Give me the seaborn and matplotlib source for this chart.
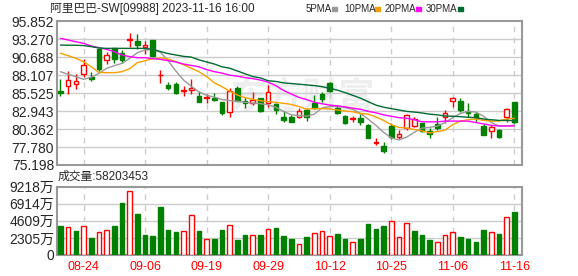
import numpy as np
import pandas as pd
import seaborn as sns
import matplotlib.pyplot as plt

# K-line data (60 trading days, 2023-08-21 .. 2023-11-16)
opens = [85.8, 86.5, 86.78, 88.22, 87.89, 91.91, 90.23, 92.0, 91.28, 93.15,
         93.01, 92.19, 93.15, 88.08, 86.69, 86.83, 85.87, 85.97, 85.11, 84.87,
         84.82, 84.25, 82.81, 86.30, 84.34, 84.05, 84.77, 84.15, 83.96, 82.09,
         82.04, 82.04, 83.14, 84.05, 85.40, 86.93, 83.34, 82.19, 81.81, 81.95,
         80.94, 78.31, 77.93, 80.80, 79.17, 80.46, 80.75, 81.18, 80.03, 81.09,
         82.04, 84.34, 84.34, 82.91, 82.47, 80.80, 80.03, 80.18, 82.14, 84.25]
highs = [87.5, 88.7, 88.27, 90.37, 88.51, 92.0, 91.48, 92.05, 91.67, 94.11,
         94.01, 93.01, 93.2, 88.84, 87.12, 87.17, 86.54, 87.50, 85.78, 85.40,
         85.49, 84.30, 86.21, 86.50, 84.92, 85.68, 84.87, 86.64, 84.15, 82.95,
         82.33, 83.34, 83.34, 85.25, 85.73, 87.07, 83.82, 82.38, 82.24, 82.47,
         81.04, 79.03, 78.45, 81.18, 80.22, 82.57, 82.04, 81.22, 80.51, 82.14,
         83.10, 85.01, 84.77, 84.05, 82.81, 81.04, 80.94, 80.37, 83.34, 84.30]
lows = [85.1, 85.44, 86.16, 87.89, 87.26, 88.75, 89.75, 89.90, 89.80, 92.19,
        91.91, 91.19, 90.66, 86.93, 85.97, 85.40, 85.11, 85.40, 84.29, 84.15,
        84.44, 82.43, 82.14, 84.40, 83.43, 83.82, 82.86, 83.53, 82.47, 81.42,
        81.38, 82.0, 81.57, 83.19, 84.25, 85.73, 82.52, 81.09, 81.42, 80.94,
        79.03, 78.07, 76.97, 78.88, 78.88, 80.22, 80.70, 79.99, 79.12, 80.22,
        81.28, 83.58, 82.86, 82.14, 81.42, 79.50, 79.12, 79.07, 81.42, 81.05]
closes = [85.6, 87.36, 87.26, 89.51, 87.60, 89.03, 91.04, 90.47, 90.33, 93.25,
          92.48, 92.39, 90.90, 88.17, 86.21, 85.49, 85.97, 86.26, 84.29, 84.96,
          84.58, 82.71, 85.87, 84.44, 84.10, 84.53, 83.00, 85.68, 83.10, 81.71,
          81.42, 82.91, 82.14, 83.43, 84.73, 85.87, 82.62, 81.28, 81.90, 81.42,
          79.12, 78.45, 77.26, 79.17, 79.60, 82.33, 81.81, 80.13, 79.60, 80.46,
          82.71, 84.77, 83.14, 82.62, 82.09, 79.55, 80.66, 79.27, 83.19, 81.42]

ma5 = [88.6, 88.22, 87.89, 87.5, 87.79, 88.36, 89.08, 89.46, 89.8, 90.52,
       91.33, 91.72, 91.81, 91.38, 90.18, 88.7, 87.4, 86.5, 85.7, 85.2,
       84.95, 84.6, 84.45, 84.35, 84.2, 84.1, 84.0, 83.85, 83.5, 82.9,
       82.4, 82.3, 82.2, 82.5, 83.4, 83.6, 83.6, 83.45, 83.2, 82.6,
       81.8, 80.9, 79.9, 79.1, 78.8, 79.2, 79.9, 80.5, 80.6, 80.8,
       81.3, 82.0, 82.6, 82.9, 82.8, 82.2, 81.3, 80.8, 80.8, 80.9]
ma10 = [91.24, 90.9, 90.52, 90.04, 89.32, 88.5, 88.46, 88.46, 88.6, 89.03,
        89.9, 90.18, 90.47, 90.6, 90.42, 90.04, 89.6, 89.1, 88.6, 87.9,
        87.0, 86.45, 85.8, 85.25, 84.87, 84.63, 84.44, 84.3, 84.2, 84.05,
        83.9, 83.6, 83.2, 83.3, 83.3, 83.25, 83.1, 82.95, 82.85, 82.6,
        82.5, 82.1, 81.6, 81.0, 80.6, 80.5, 80.3, 80.1, 79.8, 80.0,
        80.2, 81.0, 81.5, 81.7, 81.8, 81.6, 81.5, 81.5, 81.8, 81.9]
ma20 = [93.39, 93.15, 92.9, 92.67, 92.29, 92.05, 91.81, 91.48, 91.0, 90.76,
        90.61, 90.61, 90.47, 90.37, 90.18, 90.0, 89.7, 89.5, 89.3, 88.9,
        88.6, 88.4, 88.1, 87.95, 87.75, 87.6, 87.4, 87.1, 86.6, 85.9,
        85.4, 84.9, 84.6, 84.2, 84.0, 83.8, 83.7, 83.55, 83.35, 83.2,
        82.9, 82.7, 82.4, 82.2, 82.0, 81.9, 81.7, 81.4, 81.4, 81.4,
        81.5, 81.5, 81.5, 81.5, 81.3, 81.1, 80.9, 80.8, 80.8, 80.8]
ma30 = [92.43, 92.4, 92.4, 92.35, 92.2, 92.0, 91.95, 91.95, 91.95, 91.95,
        91.95, 91.95, 91.8, 91.5, 91.2, 91.0, 90.8, 90.7, 90.3, 90.0,
        89.7, 89.3, 89.1, 88.7, 88.3, 87.9, 87.7, 87.3, 87.2, 87.0,
        86.9, 86.8, 86.7, 86.6, 86.45, 86.2, 85.95, 85.6, 85.2, 84.8,
        84.3, 83.8, 83.5, 83.3, 83.1, 82.9, 82.8, 82.67, 82.5, 82.4,
        82.24, 82.2, 82.14, 82.05, 82.0, 81.8, 81.7, 81.6, 81.6, 81.57]

# volume in 万 shares, colour by close vs previous close (R = up, G = down)
volumes = [3912, 3733, 3238, 3867, 2293, 3058, 3328, 3912, 7015, 8589,
           5531, 2698, 2563, 6476, 3373, 3103, 3193, 5351, 3238, 2114,
           2159, 3373, 4002, 2024, 2698, 2653, 2698, 3463, 3643, 2563,
           2159, 1484, 2428, 2968, 3238, 2563, 2833, 2159, 1754, 2159,
           4227, 3508, 3912, 4587, 2428, 4317, 3238, 2698, 2024, 1754,
           2698, 3103, 2428, 2159, 1754, 3373, 3103, 2833, 5127, 5820.3453]
vol_dir = list("GRGRGRRGGRGGGGGGRRGRGGRGGRGRGG"
               "GRGRRRGGRGGGGRRRGGGRRRGGGGRGRG")

tick_pos = [3, 11, 19, 27, 35, 43, 51, 59]
tick_labels = ["08-24", "09-06", "09-19", "09-29", "10-12", "10-25", "11-06", "11-16"]
price_ticks = [75.198, 77.780, 80.362, 82.943, 85.525, 88.107, 90.688, 93.270, 95.852]
vol_ticks = [0, 2305, 4609, 6914, 9218]
vol_tick_labels = ["0", "2305万", "4609万", "6914万", "9218万"]

RED = "#ff0000"
GREEN = "#008000"
MA_COLORS = {"5PMA": "#999999", "10PMA": "#f5a000", "20PMA": "#ff00ff", "30PMA": "#006b33"}

sns.set_style("white")
plt.rcParams["font.family"] = ["Liberation Sans", "Noto Sans CJK SC", "DejaVu Sans"]

fig = plt.figure(figsize=(5.78, 2.76), dpi=100)
ax = fig.add_axes([57 / 578, 1 - 165 / 276, 465 / 578, 143.8 / 276])
axv = fig.add_axes([57 / 578, 1 - 255 / 276, 465 / 578, 68.3 / 276])

x = np.arange(len(closes))
o, h, l, c = map(np.array, (opens, highs, lows, closes))
up = c >= o
body_w = 0.6

# watermark
ax.text(0.53, 0.47, "东方财富", transform=ax.transAxes, fontsize=26,
        color="#eeeeee", ha="center", va="center",
        family=["Noto Sans CJK SC"], fontweight="bold", zorder=0)

# candles
ax.vlines(x, l, h, colors=np.where(up, RED, GREEN), linewidth=1, zorder=2)
bottoms = np.minimum(o, c)
heights = np.maximum(np.abs(c - o), 0.02)
ax.bar(x[up], heights[up], bottom=bottoms[up], width=body_w,
       facecolor="white", edgecolor=RED, linewidth=1, zorder=3)
ax.bar(x[~up], heights[~up], bottom=bottoms[~up], width=body_w,
       facecolor=GREEN, edgecolor=GREEN, linewidth=1, zorder=3)

# moving averages
ma_df = pd.DataFrame({"idx": x, "5PMA": ma5, "10PMA": ma10, "20PMA": ma20, "30PMA": ma30})
ma_long = ma_df.melt(id_vars="idx", var_name="line", value_name="value")
sns.lineplot(data=ma_long, x="idx", y="value", hue="line", palette=MA_COLORS,
             linewidth=1, legend=False, ax=ax, zorder=4)

# volume
vcol = np.array([RED if d == "R" else GREEN for d in vol_dir])
vol = np.array(volumes)
is_up = vcol == RED
axv.bar(x[is_up], vol[is_up], width=body_w, facecolor="white",
        edgecolor=RED, linewidth=1, zorder=3)
axv.bar(x[~is_up], vol[~is_up], width=body_w, facecolor=GREEN,
        edgecolor=GREEN, linewidth=1, zorder=3)

for a in (ax, axv):
    a.set_xlim(-0.45, 60.0)
    a.set_xlabel("")
    a.set_ylabel("")
    for s in a.spines.values():
        s.set_color("#999999")
        s.set_linewidth(1.5)
    a.tick_params(length=0, labelsize=10, pad=2)
    for p in tick_pos:
        a.axvline(p, color="#cccccc", linestyle=(0, (4, 4)), linewidth=1, zorder=1)

ax.set_ylim(price_ticks[0], price_ticks[-1])
ax.set_yticks(price_ticks)
ax.set_yticklabels([f"{t:.3f}" for t in price_ticks])
for t in price_ticks[1:-1]:
    ax.axhline(t, color="#cccccc", linewidth=1, zorder=1)
ax.set_xticks([])

axv.set_ylim(0, 9218)
axv.set_yticks(vol_ticks)
axv.set_yticklabels(vol_tick_labels, family=["Liberation Sans", "Noto Sans CJK SC"])
for t in vol_ticks[1:-1]:
    axv.axhline(t, color="#cccccc", linewidth=1, zorder=1)
axv.set_xticks(tick_pos)
axv.set_xticklabels(tick_labels, color=RED, fontsize=9)
axv.tick_params(axis="x", pad=4)

# header texts
head_font = ["Liberation Sans", "Noto Sans CJK SC", "DejaVu Sans"]
fig.text(50 / 578, 1 - 9 / 276, "阿里巴巴-SW[09988] 2023-11-16 16:00", fontsize=8.5,
         family=head_font, va="center", ha="left")
legend_items = [("5PMA", 306, 332), ("10PMA", 344, 375), ("20PMA", 385, 416), ("30PMA", 426, 458)]
for name, px, sq_x in legend_items:
    fig.text(px / 578, 1 - 9 / 276, name, fontsize=7, va="center", ha="left")
    fig.patches.append(plt.Rectangle((sq_x / 578, 1 - 11 / 276), 5 / 578, 4 / 276,
                                     transform=fig.transFigure, color=MA_COLORS[name],
                                     figure=fig))
fig.text(58 / 578, 1 - 177 / 276, "成交量:58203453", fontsize=8.5,
         family=head_font, va="center", ha="left")

fig.savefig("out.png", dpi=100, facecolor="white")
